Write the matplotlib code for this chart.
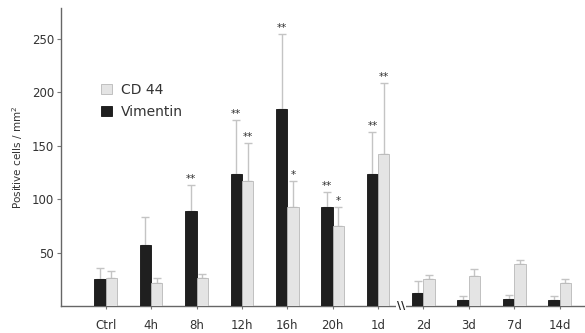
import matplotlib
matplotlib.use("Agg")
import matplotlib.pyplot as plt
import numpy as np

categories = ["Ctrl", "4h", "8h", "12h", "16h", "20h", "1d", "2d", "3d", "7d", "14d"]
vimentin = [25, 57.5, 88.5, 124, 184.5, 93, 124, 12.5, 6, 6.5, 6]
vimentin_err = [11, 25.5, 24.5, 50, 70.5, 14, 39, 10.5, 3, 3.5, 3]
cd44 = [26, 22, 26, 117, 93, 75, 142, 25, 28, 39, 22]
cd44_err = [7, 4, 4, 36, 24, 17.5, 67, 4, 7, 4, 3.5]
vim_stars = ["", "", "**", "**", "**", "**", "**", "", "", "", ""]
cd44_stars = ["", "", "", "**", "*", "*", "**", "", "", "", ""]
yticks = [50, 100, 150, 200, 250]

plt.rcParams['font.family'] = ['DejaVu Sans']
fig = plt.figure(figsize=(5.85, 3.33), dpi=100)
ax = fig.add_axes([0.104, 0.081, 0.896, 0.895])

x = np.arange(len(categories))
w = 0.25
dark = "#1f1f1f"
light = "#e4e4e4"
ecol = "#c4c4c4"

b1 = ax.bar(x - w/2, vimentin, w, color=dark, edgecolor="#111111", linewidth=0.6, label="Vimentin", zorder=3)
b2 = ax.bar(x + w/2, cd44, w, color=light, edgecolor="#b8b8b8", linewidth=0.6, label="CD 44", zorder=3)
ax.errorbar(x - w/2, vimentin, yerr=[np.zeros(len(x)), vimentin_err], fmt="none",
            ecolor=ecol, elinewidth=1.0, capsize=3, capthick=1.0, zorder=2)
ax.errorbar(x + w/2, cd44, yerr=[np.zeros(len(x)), cd44_err], fmt="none",
            ecolor=ecol, elinewidth=1.0, capsize=3, capthick=1.0, zorder=2)

for i in range(len(x)):
    if vim_stars[i]:
        ax.text(x[i] - w/2, vimentin[i] + vimentin_err[i] + 1, vim_stars[i], ha="center",
                va="bottom", fontsize=7.5, color="#333333")
    if cd44_stars[i]:
        ax.text(x[i] + w/2, cd44[i] + cd44_err[i] + 1, cd44_stars[i], ha="center",
                va="bottom", fontsize=7.5, color="#333333")

ax.set_xlim(-0.99, 10.56)
ax.set_ylim(0, 279)
ax.set_xticks(x)
ax.set_xticklabels(categories, fontsize=8.5, color="#333333")
ax.set_yticks(yticks)
ax.set_yticklabels([str(t) for t in yticks], fontsize=8.5, color="#333333")
ax.tick_params(axis="x", length=2, color="#777777", pad=7)
ax.tick_params(axis="y", length=3, color="#777777", pad=2)
for s in ["top", "right"]:
    ax.spines[s].set_visible(False)
for s in ["left", "bottom"]:
    ax.spines[s].set_color("#666666")
    ax.spines[s].set_linewidth(1.0)
ax.set_ylabel("Positive cells / mm$^2$", fontsize=7.5, color="#333333", labelpad=5)

# axis break mark between 1d and 2d
ax.text(6.5, 0, "\\\\", ha="center", va="center", fontsize=8, color="#222222",
        fontweight="bold", zorder=5,
        bbox=dict(facecolor="white", edgecolor="none", pad=0.5))

leg = ax.legend(handles=[b2, b1], loc="upper left", bbox_to_anchor=(0.053, 0.79),
                frameon=False, fontsize=10, handlelength=0.75, handleheight=0.75,
                handletextpad=0.7, labelspacing=0.55)
for t in leg.get_texts():
    t.set_color("#333333")

fig.savefig("out.png", dpi=100)
